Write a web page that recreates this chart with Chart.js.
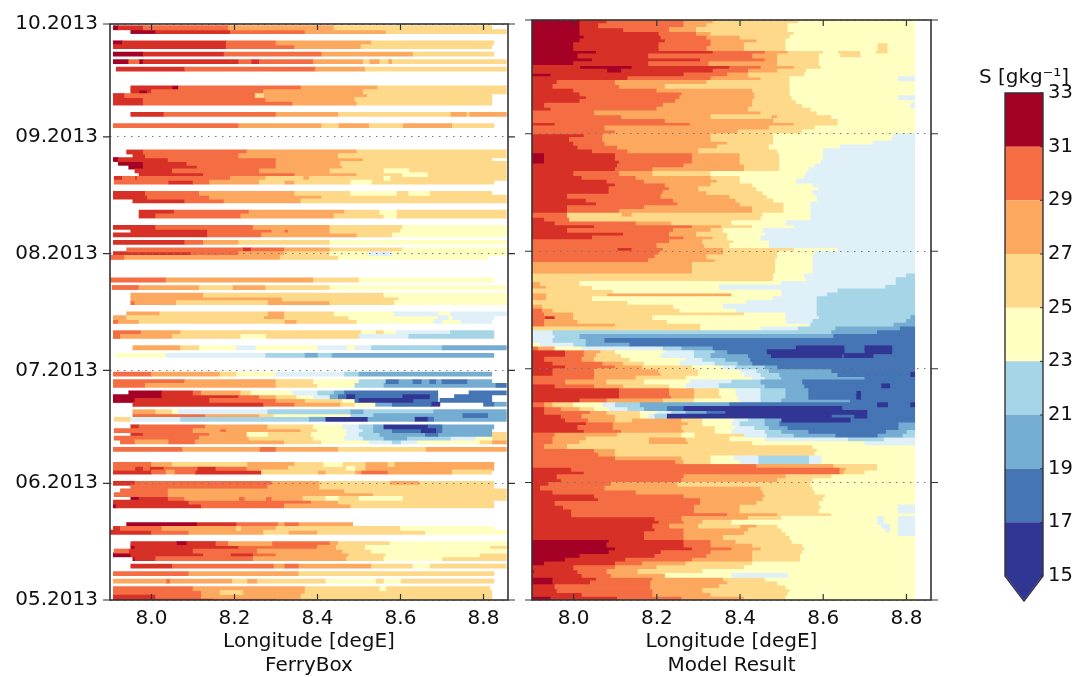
<!DOCTYPE html>
<html><head><meta charset="utf-8">
<script src="https://cdn.jsdelivr.net/npm/chart.js@4"></script>
<style>
html,body{margin:0;padding:0;background:#fff;width:1091px;height:677px;overflow:hidden}
canvas{position:absolute;top:0}
</style></head><body>
<canvas id="ferry" width="520" height="677" style="left:0"></canvas>
<canvas id="model" width="420" height="677" style="left:520px"></canvas>
<canvas id="cbar" width="131" height="677" style="left:960px"></canvas>
<script>
// salinity classes, low to high
const N=0,M=1,m=2,B=3,b=4,Y=5,y=6,O=7,o=8,r=9,R=10;
const classColors=['#313695','#4575b4','#74add1','#a6d5e8','#e0f0f8','#feffc0','#fed98a','#fca85f','#f46d43','#d73027','#a50026'];
const cbarEdges=[15,17,19,21,23,25,27,29,31,33];
const cbarColors=['#313695','#4575b4','#74add1','#a6d5e8','#feffc0','#fed98a','#fca85f','#f46d43','#a50026'];
const tickDays=[0,31,61,92,123,153];
const tickLabels=['05.2013','06.2013','07.2013','08.2013','09.2013','10.2013'];
const lonTicks=[8.0,8.2,8.4,8.6,8.8];
const lonMin=7.9, lonMax=8.859, modelEnd=8.82, modelStart=7.9;

// FerryBox tracks: [day since 1 May, start lon, class, end lon, class, end lon, ...]
const ferryRows=[
[152,7.908,R,7.92,r,7.98,o,8.185,O,8.44,y,8.82],
[151,7.95,R,8.01,r,8.19,o,8.37,O,8.565,y,8.855],
[148,7.908,R,7.93,r,8.18,o,8.30,O,8.53,y,8.825],
[147,7.908,r,8.18,o,8.345,O,8.505,y,8.82],
[145,7.908,R,7.98,r,8.175,o,8.41,O,8.63,y,8.825],
[143,7.908,R,7.945,o,7.97,R,7.98,r,8.21,o,8.24,r,8.26,o,8.39,O,8.51,y,8.525,O,8.55,y,8.57,O,8.58,y,8.855],
[141,7.915,r,8.08,o,8.395,O,8.515,y,8.855],
[136,7.95,r,8.05,R,8.065,o,8.36,O,8.545,y,8.855],
[135,7.95,r,7.97,R,7.99,r,8.0,o,8.27,O,8.51,y,8.855],
[134,7.908,r,7.935,o,8.25,y,8.27,O,8.52,y,8.82],
[133,7.908,r,7.98,o,8.275,O,8.49,y,8.82],
[132,7.908,r,7.98,o,8.34,O,8.495,y,8.82],
[129,7.95,r,8.03,o,8.30,O,8.45,y,8.72,O,8.76,y,8.765,O,8.855],
[126,7.908,o,8.21,O,8.41,y,8.45,O,8.525,y,8.605,O,8.725,y,8.825],
[119,7.94,r,7.98,o,8.23,O,8.495,y,8.855],
[118,7.955,r,7.985,o,8.21,O,8.45,y,8.855],
[117,7.908,R,7.92,r,8.04,o,8.30,O,8.51,y,8.82],
[116,7.92,R,7.98,r,8.085,o,8.30,O,8.455,y,8.855],
[115,7.945,R,7.98,r,8.11,o,8.30,O,8.46,y,8.855],
[114,7.96,r,8.05,o,8.26,O,8.43,y,8.56,Y,8.62,y,8.855],
[113,7.97,r,8.125,o,8.345,O,8.495,y,8.605,Y,8.665,y,8.855],
[112,7.91,r,7.93,o,7.96,r,7.965,o,8.19,O,8.275,y,8.365,O,8.38,y,8.56,Y,8.575,y,8.855],
[111,7.91,o,8.04,r,8.10,o,8.14,O,8.26,y,8.32,O,8.345,y,8.48,Y,8.53,y,8.825],
[108,7.908,r,7.985,o,8.115,O,8.345,y,8.48,Y,8.59,y,8.62,Y,8.67,y,8.82],
[107,7.908,r,7.99,o,8.14,O,8.41,y,8.855],
[106,7.955,r,8.08,o,8.175,O,8.36,y,8.855],
[103,7.97,r,8.055,o,8.235,O,8.465,y,8.55,Y,8.59,y,8.855],
[102,7.97,r,8.01,o,8.215,O,8.44,y,8.56,Y,8.59,y,8.855],
[99,7.908,r,8.01,o,8.245,O,8.43,y,8.605,Y,8.68,Y,8.855],
[98,7.95,r,8.135,o,8.29,O,8.32,o,8.33,O,8.43,y,8.60,Y,8.855],
[97,7.908,r,8.135,o,8.265,O,8.495,y,8.58,Y,8.855],
[95,7.908,r,8.08,o,8.125,O,8.21,y,8.43,Y,8.855],
[93,7.94,o,8.22,r,8.24,o,8.32,O,8.43,y,8.605,Y,8.855],
[92,7.908,r,8.095,o,8.21,O,8.32,y,8.43,Y,8.525,b,8.58,Y,8.855],
[91,7.90,o,7.935,O,8.31,y,8.45,Y,8.81],
[85,7.90,o,8.035,O,8.39,y,8.50,Y,8.825],
[83,7.905,o,7.97,O,8.115,y,8.195,O,8.275,y,8.43,Y,8.855],
[81,7.95,O,8.125,y,8.56,Y,8.855],
[80,7.95,O,8.315,y,8.595,Y,8.855],
[79,7.95,o,7.96,O,8.06,y,8.28,O,8.43,y,8.585,Y,8.855],
[76,7.94,O,8.02,y,8.28,O,8.32,y,8.44,Y,8.585,b,8.69,Y,8.72,b,8.855],
[75,7.908,O,7.94,y,8.27,O,8.32,y,8.475,Y,8.69,b,8.715,Y,8.725,b,8.825],
[74,7.908,o,7.92,O,7.97,y,8.32,O,8.35,y,8.495,Y,8.68,b,8.70,Y,8.745,b,8.82],
[71,7.908,o,7.975,O,8.07,y,8.505,Y,8.54,y,8.56,Y,8.59,b,8.72,B,8.825],
[70,7.908,o,7.925,O,8.05,y,8.215,Y,8.275,y,8.50,b,8.62,B,8.825],
[67,7.955,O,8.07,y,8.115,Y,8.205,b,8.25,Y,8.40,b,8.47,Y,8.49,b,8.53,B,8.70,m,8.855],
[65,7.915,Y,8.035,b,8.275,B,8.37,m,8.40,B,8.435,m,8.825],
[60,7.908,o,8.0,O,8.165,y,8.205,Y,8.30,b,8.465,B,8.50,m,8.82],
[58,7.908,o,8.08,O,8.30,y,8.39,Y,8.50,B,8.565,M,8.595,m,8.63,M,8.65,m,8.67,M,8.685,m,8.70,M,8.76,m,8.82],
[57,7.908,o,7.985,O,8.30,y,8.40,Y,8.49,B,8.56,m,8.83,M,8.855],
[55,7.945,R,8.025,r,8.10,o,8.12,O,8.215,y,8.24,Y,8.34,b,8.40,B,8.44,m,8.465,M,8.69],
[55,8.765,M,8.855],
[54,7.908,R,8.025,r,8.21,o,8.26,O,8.30,y,8.35,Y,8.39,b,8.43,m,8.45,M,8.47,N,8.49,M,8.605,N,8.67,M,8.69],
[54,8.73,M,8.82],
[53,7.908,R,7.96,r,8.14,o,8.30,O,8.37,y,8.46,Y,8.49,M,8.50,N,8.63,M,8.69],
[53,8.695,M,8.82],
[52,7.955,r,8.27,o,8.345,O,8.455,y,8.49,Y,8.54,m,8.58,M,8.675,N,8.695],
[52,8.80,M,8.825,m,8.855],
[50,7.955,O,8.01,y,8.05,Y,8.065,b,8.28,B,8.48,m,8.51,B,8.68,m,8.855],
[49,7.955,o,8.13,O,8.26,y,8.295,Y,8.48,B,8.535,m,8.75,M,8.81,m,8.855],
[48,7.91,y,7.95,b,8.07,B,8.38,m,8.42,N,8.52,m,8.635,N,8.665,M,8.68,m,8.855],
[46,7.95,r,7.97,o,8.13,O,8.28,y,8.39,Y,8.46,b,8.50,B,8.535,m,8.56,N,8.665,M,8.70,m,8.825],
[45,7.91,o,8.10,O,8.165,o,8.18,O,8.36,y,8.40,Y,8.47,b,8.51,B,8.535,m,8.58,M,8.65,N,8.685,M,8.70,m,8.82],
[44,7.95,r,7.98,o,8.14,O,8.23,Y,8.28,y,8.385,Y,8.47,b,8.50,B,8.55,m,8.66,M,8.69,m,8.82,y,8.855],
[43,7.91,o,8.115,O,8.235,y,8.39,Y,8.465,b,8.51,B,8.56,m,8.615,B,8.72,b,8.78,Y,8.82,y,8.855],
[42,7.925,o,7.96,O,8.04,o,8.105,O,8.32,y,8.41,Y,8.525,b,8.58,B,8.6,b,8.64,Y,8.79,y,8.82,O,8.855],
[40,7.908,o,8.075,O,8.26,o,8.30,O,8.45,y,8.66,O,8.855],
[36,7.908,o,8.0,O,8.05,y,8.23,O,8.345,y,8.415,Y,8.46,y,8.515,O,8.57,y,8.585,O,8.825],
[35,7.908,o,7.96,r,7.98,o,7.995,r,8.03,o,8.11,r,8.155,o,8.23,O,8.33,y,8.47,Y,8.49,y,8.515,O,8.825],
[34,7.908,r,8.0,o,8.035,O,8.055,o,8.105,r,8.265,y,8.40,O,8.42,y,8.49,O,8.505,o,8.57,O,8.725,y,8.82],
[31,7.908,r,7.96,o,8.29,O,8.405,y,8.575,O,8.645,y,8.825],
[30,7.95,o,8.28,O,8.405,y,8.825],
[29,7.925,o,8.04,O,8.465,y,8.855],
[28,7.91,o,8.04,O,8.535,y,8.855],
[27,7.95,R,7.97,r,8.04,o,8.08,O,8.21,o,8.225,O,8.275,o,8.29,O,8.365,y,8.42,Y,8.45,y,8.50,Y,8.605,y,8.855],
[26,7.908,r,8.09,o,8.385,O,8.45,y,8.825],
[25,7.908,R,7.915,r,8.12,o,8.32,O,8.48,y,8.825],
[20,7.94,R,8.11,r,8.205,o,8.305,O,8.32,o,8.355,O,8.485],
[19,7.908,r,7.925,o,8.025,O,8.205,y,8.215,O,8.30,y,8.60,Y,8.825],
[18,7.90,r,8.0,o,8.09,O,8.27,y,8.33,O,8.40,y,8.66,Y,8.855],
[15,7.95,r,8.06,R,8.085,r,8.155,o,8.185,O,8.29,o,8.43,O,8.45,y,8.575,Y,8.855],
[14,7.95,R,7.96,r,8.21,o,8.40,O,8.445,y,8.515,Y,8.815,y,8.855],
[13,7.91,o,7.945,r,8.10,o,8.255,O,8.46,y,8.53,Y,8.855],
[12,7.908,R,7.95,r,8.125,o,8.19,r,8.245,o,8.30,O,8.475,y,8.565,Y,8.79,y,8.855],
[11,7.955,R,7.96,r,8.01,o,8.245,O,8.47,y,8.56,Y,8.70,y,8.855],
[9,7.95,r,8.05,o,8.295,O,8.32,o,8.355,O,8.53,y,8.63,Y,8.67,y,8.855],
[7,7.908,o,8.09,O,8.355,y,8.825],
[5,7.908,O,8.035,o,8.045,O,8.195,y,8.23,O,8.255,y,8.42,Y,8.54,y,8.56,Y,8.60,y,8.825],
[3,7.908,o,8.10,O,8.37,y,8.55,Y,8.565,y,8.815],
[2,7.908,o,8.12,O,8.165,y,8.22,O,8.37,y,8.82],
[1,7.908,r,8.01,o,8.12,O,8.36,y,8.82],
[0,7.908,r,8.15,o,8.30,O,8.40,y,8.82]
];

// Model result, one row per day from 30 Sep down to 1 May: class, end lon, ... last class runs to modelEnd
const modelRows=[
[R,8.015,r,8.08,o,8.265,O,8.335,y,8.54,Y],
[R,8.015,r,8.06,o,8.265,O,8.32,y,8.515,Y],
[R,8.015,r,8.12,o,8.23,O,8.295,y,8.515,Y],
[R,8.015,r,8.205,o,8.295,O,8.33,y,8.53,Y],
[R,8.025,r,8.21,o,8.32,O,8.40,y,8.52,Y],
[R,8.015,r,8.22,o,8.33,O,8.44,y,8.51,Y],
[R,8.0,r,8.205,o,8.33,O,8.41,y,8.51,Y,8.73,y,8.755,Y],
[R,8.0,r,8.205,o,8.32,O,8.41,y,8.51,Y,8.73,y,8.755,Y],
[R,8.055,r,8.335,o,8.46,O,8.515,y,8.60,Y,8.635,y,8.69,Y,8.725,y,8.755,Y],
[R,8.01,r,8.18,o,8.43,O,8.49,y,8.59,Y,8.64,y,8.69,Y],
[R,8.045,r,8.305,o,8.46,O,8.49,y,8.59,Y],
[R,8.0,r,8.18,o,8.325,O,8.49,y,8.59,Y],
[r,8.015,R,8.14,r,8.375,o,8.45,O,8.53,y,8.595,Y],
[r,8.08,R,8.115,r,8.335,o,8.42,O,8.49,y,8.56,Y],
[R,7.945,r,8.265,o,8.37,O,8.42,y,8.555,Y],
[r,8.13,o,8.33,O,8.45,y,8.52,Y,8.78,b],
[r,7.96,o,8.10,O,8.32,y,8.52,Y],
[r,7.95,o,8.11,O,8.22,y,8.52,Y],
[r,8.0,o,8.20,O,8.43,y,8.52,Y],
[r,8.015,o,8.26,O,8.435,y,8.52,Y],
[r,8.03,o,8.255,O,8.435,y,8.525,Y,8.78,b],
[r,8.015,o,8.245,O,8.43,y,8.535,Y],
[r,7.93,o,8.215,O,8.43,y,8.55,Y,8.81,b],
[r,7.945,o,8.2,O,8.42,y,8.57,Y],
[o,8.05,O,8.45,y,8.585,Y],
[o,8.115,O,8.33,y,8.475,O,8.49,y,8.62,Y],
[o,8.22,O,8.48,y,8.635,Y],
[r,7.955,o,8.28,O,8.53,y,8.635,Y],
[o,8.075,O,8.47,y,8.58,Y],
[o,8.10,O,8.395,y,8.55,Y],
[r,8.025,o,8.07,O,8.33,y,8.48,Y,8.77,b],
[r,7.99,o,8.07,O,8.33,y,8.48,Y,8.765,b],
[r,8.0,o,8.075,O,8.37,y,8.48,Y,8.72,b],
[r,8.01,o,8.105,O,8.345,y,8.47,Y,8.64,b],
[r,8.045,o,8.13,O,8.3,y,8.49,Y,8.60,b],
[R,7.93,r,8.10,o,8.285,O,8.40,y,8.495,Y,8.60,b],
[R,7.93,r,8.10,o,8.285,O,8.40,y,8.495,Y,8.60,b],
[R,7.93,r,8.11,o,8.285,O,8.40,y,8.495,Y,8.595,b],
[r,8.105,o,8.265,O,8.41,y,8.495,Y,8.58,b],
[r,8.10,o,8.19,O,8.41,y,8.495,Y,8.565,b],
[r,8.0,o,8.11,O,8.19,y,8.33,Y,8.56,b],
[r,8.02,o,8.15,O,8.33,y,8.40,Y,8.555,b],
[r,8.08,o,8.17,O,8.345,y,8.40,Y,8.535,b],
[r,8.10,o,8.22,O,8.33,y,8.43,Y,8.575,b],
[r,8.085,o,8.23,O,8.30,y,8.44,Y,8.59,b],
[r,8.085,o,8.215,O,8.32,y,8.455,Y,8.575,b],
[r,7.985,o,8.21,O,8.375,y,8.465,Y,8.585,b],
[r,8.03,o,8.24,O,8.39,y,8.48,Y,8.585,b],
[r,8.055,o,8.25,O,8.40,y,8.505,Y,8.57,b],
[r,7.985,o,8.17,O,8.43,y,8.505,Y,8.57,b],
[r,7.985,o,8.11,O,8.43,y,8.505,Y,8.57,b],
[o,7.985,y,8.115,O,8.14,y,8.455,Y,8.57,b],
[r,7.93,o,7.99,y,8.45,Y,8.57,b],
[r,7.955,o,8.15,O,8.235,y,8.38,Y,8.51,b],
[r,8.05,o,8.285,O,8.355,y,8.43,Y,8.53,b],
[r,7.985,o,8.24,O,8.33,y,8.36,Y,8.455,b],
[r,8.12,o,8.23,O,8.295,y,8.37,Y,8.46,b],
[r,8.045,o,8.265,O,8.335,y,8.37,Y,8.45,b],
[o,8.23,O,8.31,y,8.385,Y,8.47,b],
[o,8.20,O,8.315,y,8.375,Y,8.47,b],
[o,8.105,r,8.14,o,8.215,O,8.36,y,8.53,Y,8.635,b],
[o,8.205,O,8.36,y,8.49,Y,8.58,b],
[o,8.195,O,8.32,y,8.49,Y,8.575,b],
[o,8.18,O,8.34,y,8.485,Y,8.575,b],
[O,8.285,y,8.485,Y,8.575,b],
[O,8.285,y,8.485,Y,8.575,b],
[O,8.285,y,8.485,Y,8.575,b],
[y,8.48,Y,8.555,b,8.80,B],
[y,8.48,Y,8.56,b,8.775,B],
[O,7.92,y,8.015,Y,8.50,b,8.775,B],
[O,7.935,y,8.045,Y,8.35,b,8.75,B],
[y,8.095,Y,8.50,b,8.635,B],
[O,7.935,y,8.08,O,8.38,Y,8.50,b,8.61,B],
[O,7.935,y,8.045,Y,8.48,b,8.585,B],
[y,8.13,Y,8.415,b,8.585,B],
[O,7.925,y,8.24,Y,8.36,b,8.585,B],
[o,7.925,O,7.95,y,8.255,Y,8.39,b,8.585,B],
[o,7.93,O,8.0,y,8.41,Y,8.51,b,8.585,B],
[o,7.93,r,7.955,O,8.0,y,8.19,Y,8.51,b,8.59,B,8.81,m],
[o,7.93,O,8.01,y,8.225,Y,8.51,b,8.575,B,8.80,m],
[o,7.93,O,8.10,y,8.305,Y,8.565,b,8.57,B,8.77,m],
[y,8.305,Y,8.45,b,8.54,B,8.63,m,8.785,M],
[b,7.95,B,8.62,m,8.73,M],
[b,7.955,B,8.015,m,8.625,M],
[b,7.95,B,8.03,m,8.075,M],
[Y,7.92,b,8.0,B,8.03,m,8.135,M],
[o,7.915,O,7.955,Y,8.02,b,8.215,B,8.26,m,8.335,M,8.535,N,8.65,M,8.70,N,8.765,M],
[r,7.98,o,8.025,O,8.065,y,8.10,Y,8.22,b,8.29,B,8.34,m,8.37,M,8.465,N,8.65,M,8.70,N,8.765,M],
[r,7.98,o,8.025,O,8.055,y,8.115,Y,8.21,b,8.29,B,8.33,m,8.42,M,8.475,N,8.645,M,8.65,N,8.72,M],
[r,7.93,o,8.02,O,8.05,y,8.135,Y,8.27,b,8.31,B,8.365,m,8.425,M],
[r,7.95,o,8.07,O,8.12,y,8.17,Y,8.255,b,8.34,B,8.395,m,8.43,M],
[r,7.98,o,8.10,O,8.165,y,8.285,Y,8.36,b,8.39,B,8.46,m,8.49,M],
[r,7.95,o,8.05,O,8.205,y,8.30,Y,8.40,b,8.44,B,8.47,m,8.62,M],
[r,7.95,o,8.05,O,8.21,y,8.30,Y,8.41,b,8.45,B,8.495,m,8.635,M,8.81,N],
[o,8.05,O,8.15,y,8.27,Y,8.43,b,8.46,B,8.50,m,8.70,M],
[o,7.98,O,8.08,y,8.17,Y,8.28,b,8.38,B,8.45,m,8.55,M],
[r,7.955,o,8.05,O,8.12,y,8.23,Y,8.27,b,8.35,B,8.46,m,8.555,M,8.74,N,8.76,M],
[r,8.11,o,8.23,O,8.29,y,8.35,Y,8.39,b,8.45,B,8.51,m,8.565,M],
[r,8.11,o,8.23,O,8.29,y,8.35,Y,8.39,b,8.45,B,8.51,m,8.565,M,8.68,N,8.69,M],
[r,8.11,o,8.235,O,8.29,y,8.355,Y,8.395,b,8.45,B,8.51,m,8.565,M,8.68,N,8.69,M],
[r,8.015,o,8.08,O,8.215,y,8.29,Y,8.40,b,8.45,B,8.50,m,8.665,M],
[o,7.93,O,7.95,y,8.0,Y,8.07,b,8.10,B,8.16,m,8.375,M,8.73,N,8.755,M,8.81,N],
[r,7.93,o,7.97,O,8.015,y,8.05,Y,8.085,b,8.13,B,8.17,m,8.225,M,8.265,N,8.645,M],
[r,7.93,o,8.04,O,8.08,y,8.16,Y,8.2,b,8.235,B,8.27,m,8.32,M,8.365,N,8.705,M],
[r,7.97,o,8.02,O,8.10,y,8.16,Y,8.18,b,8.195,B,8.225,N,8.62,M,8.675,N,8.705,M],
[r,7.98,o,8.035,O,8.10,y,8.14,O,8.26,y,8.31,Y,8.385,b,8.42,B,8.46,m,8.50,N,8.665,M],
[r,8.03,o,8.095,O,8.275,y,8.31,Y,8.38,b,8.40,B,8.46,m,8.495,M,8.78,m],
[r,8.01,o,8.095,O,8.26,y,8.34,Y,8.39,b,8.435,B,8.47,m,8.515,M,8.78,m],
[r,8.025,o,8.115,O,8.265,y,8.34,Y,8.38,b,8.46,B,8.50,m,8.565,M,8.75,m,8.8,B],
[o,7.955,O,8.105,y,8.26,Y,8.29,y,8.41,b,8.465,B,8.53,m,8.63,M,8.73,m,8.79,B],
[o,7.95,O,8.03,y,8.18,O,8.27,y,8.375,Y,8.46,b,8.66,B,8.745,b],
[o,7.95,O,8.015,y,8.18,O,8.275,y,8.43,Y,8.70,b],
[o,7.93,O,7.985,y,8.575,Y],
[o,8.05,O,8.10,y,8.585,Y],
[o,8.06,O,8.10,y,8.58,Y],
[o,8.10,O,8.26,y,8.33,Y,8.385,b,8.445,B,8.565,b,8.595,Y],
[o,8.245,O,8.265,y,8.33,Y,8.40,b,8.445,B,8.565,b,8.595,Y],
[o,8.44,O,8.625,y,8.73,Y],
[r,7.995,o,8.64,O,8.655,y,8.73,Y],
[r,8.025,o,8.64,O,8.65,y,8.70,Y],
[r,7.96,o,8.265,O,8.51,y,8.62,Y],
[r,7.97,o,8.26,O,8.49,y,8.575,Y],
[r,7.94,o,8.09,O,8.25,y,8.57,Y],
[r,7.92,o,8.075,O,8.45,y,8.575,Y],
[r,7.95,o,8.15,O,8.455,y,8.58,Y],
[r,8.05,o,8.265,O,8.46,y,8.605,Y],
[r,8.06,o,8.305,O,8.455,y,8.60,Y],
[r,7.955,o,8.305,O,8.44,y,8.59,Y],
[r,7.975,o,8.29,O,8.40,y,8.595,Y,8.78,b],
[r,7.995,o,8.29,O,8.40,y,8.59,Y,8.78,b],
[r,7.995,o,8.37,O,8.49,y,8.62,Y],
[r,8.195,o,8.26,O,8.42,y,8.5,Y,8.73,b,8.745,Y,8.78,b],
[r,8.205,o,8.265,O,8.31,y,8.38,Y,8.73,b,8.745,Y,8.78,b],
[r,8.19,o,8.23,O,8.30,y,8.40,O,8.44,y,8.49,Y,8.74,b,8.76,Y,8.78,b],
[r,8.195,o,8.265,O,8.42,y,8.50,Y,8.75,b,8.76,Y,8.78,b],
[r,8.17,o,8.265,O,8.41,y,8.51,Y,8.78,b],
[r,8.17,o,8.265,O,8.36,y,8.52,Y],
[R,8.085,r,8.265,o,8.33,O,8.39,y,8.525,Y],
[R,8.08,r,8.265,o,8.33,O,8.43,y,8.55,Y],
[R,8.10,r,8.285,o,8.38,O,8.45,y,8.555,Y],
[R,8.085,r,8.21,o,8.33,O,8.43,y,8.55,Y],
[R,8.015,r,8.195,o,8.32,O,8.43,y,8.545,Y],
[R,7.98,r,8.125,o,8.285,O,8.43,y,8.545,Y],
[R,7.93,r,8.10,o,8.165,O,8.27,y,8.43,Y],
[r,8.0,o,8.1,O,8.2,y,8.41,Y],
[R,7.905,r,8.01,o,8.08,O,8.155,y,8.31,Y],
[r,8.02,o,8.09,O,8.22,Y,8.38,b,8.515,Y],
[R,7.95,r,8.055,o,8.19,O,8.36,y,8.46,Y],
[R,7.95,r,8.04,o,8.185,O,8.37,y,8.49,Y],
[r,7.955,o,8.185,O,8.35,y,8.51,Y],
[r,7.96,o,8.19,O,8.31,y,8.52,Y],
[r,8.02,o,8.19,O,8.33,y,8.515,Y],
[R,7.945,r,8.105,o,8.26,O,8.41,y,8.51,Y]
];

const textColor='#111', frameColor='#333';
const fontFam='"DejaVu Sans", sans-serif';

function classDatasets(rowsAsSegments, thickness){
  const sets=classColors.map((c)=>({data:[],backgroundColor:c,borderWidth:0,grouped:false,barThickness:thickness,inflateAmount:0.3}));
  rowsAsSegments.forEach(s=>sets[s.c].data.push({y:s.day,x:[s.a,s.b]}));
  return sets;
}
function ferrySegments(){
  const out=[];
  ferryRows.forEach(row=>{
    let a=row[1];
    for(let i=2;i<row.length;i+=2){out.push({day:row[0],c:row[i],a:a,b:row[i+1]});a=row[i+1];}
  });
  return out;
}
function modelSegments(){
  const out=[];
  modelRows.forEach((row,k)=>{
    const day=modelRows.length-1-k+0.5;
    let a=modelStart;
    for(let i=0;i<row.length;i+=2){
      const end=i+1<row.length?row[i+1]:modelEnd;
      out.push({day:day,c:row[i],a:a,b:end});a=end;
    }
  });
  return out;
}
const framePlugin={
  id:'frame',
  afterDraw(chart){
    const {ctx,chartArea:ca,scales}=chart;
    ctx.save();
    ctx.strokeStyle=frameColor;ctx.lineWidth=1.6;
    ctx.strokeRect(ca.left,ca.top,ca.right-ca.left,ca.bottom-ca.top);
    ctx.lineWidth=1.2;
    ctx.beginPath();
    lonTicks.forEach(v=>{
      const x=scales.x.getPixelForValue(v);
      ctx.moveTo(x,ca.top);ctx.lineTo(x,ca.top+6);
      ctx.moveTo(x,ca.bottom);ctx.lineTo(x,ca.bottom-6);
    });
    tickDays.forEach(v=>{
      const p=scales.y.getPixelForValue(v);
      ctx.moveTo(ca.left-7,p);ctx.lineTo(ca.left,p);
      ctx.moveTo(ca.right,p);ctx.lineTo(ca.right+7,p);
    });
    ctx.stroke();
    ctx.restore();
  }
};
function panel(id,segments,thickness,subtitle,showY,pad,yWidth){
  return new Chart(document.getElementById(id),{
    type:'bar',
    data:{datasets:classDatasets(segments,thickness)},
    plugins:[framePlugin],
    options:{
      indexAxis:'y',responsive:false,animation:false,
      layout:{padding:pad},
      plugins:{legend:{display:false},tooltip:{enabled:false}},
      scales:{
        x:{type:'linear',min:lonMin,max:lonMax,
          afterBuildTicks(s){s.ticks=lonTicks.map(v=>({value:v}));},
          afterFit(s){s.height=77;},
          grid:{display:false,drawTicks:false},border:{display:false},
          ticks:{color:textColor,font:{family:fontFam,size:20},padding:7,maxRotation:0,autoSkip:false,callback:v=>v.toFixed(1)},
          title:{display:true,text:['Longitude [degE]',subtitle],color:textColor,font:{family:fontFam,size:20,lineHeight:1.16},padding:{top:5,bottom:0}}
        },
        y:{type:'linear',min:0,max:153,offset:false,
          afterBuildTicks(s){s.ticks=tickDays.map(v=>({value:v}));},
          afterFit(s){s.width=yWidth;},
          grid:{display:true,offset:false,color:'#777',lineWidth:1,z:1,drawTicks:false},
          border:{display:false,dash:[1.5,5.5]},
          ticks:{display:showY,color:textColor,font:{family:fontFam,size:20},padding:12,autoSkip:false,
            callback:v=>tickLabels[tickDays.indexOf(v)]}
        }
      }
    }
  });
}
panel('ferry',ferrySegments(),4.2,'FerryBox',true,{top:20,right:12,left:0,bottom:0},110);
panel('model',modelSegments(),4.3,'Model Result',false,{top:20,right:9,left:12,bottom:0},0);

const cbarPlugin={
  id:'cbarFrame',
  afterDraw(chart){
    const {ctx,chartArea:ca,scales}=chart;
    const y15=scales.y.getPixelForValue(cbarEdges[0]), y33=scales.y.getPixelForValue(cbarEdges[cbarEdges.length-1]);
    ctx.save();
    ctx.fillStyle=cbarColors[0];ctx.strokeStyle=frameColor;ctx.lineWidth=1.4;
    ctx.beginPath();
    ctx.moveTo(ca.left,y33);ctx.lineTo(ca.right,y33);ctx.lineTo(ca.right,y15);
    ctx.lineTo((ca.left+ca.right)/2,ca.bottom);ctx.lineTo(ca.left,y15);ctx.closePath();
    ctx.stroke();
    ctx.beginPath();
    ctx.moveTo(ca.left+0.7,y15);ctx.lineTo(ca.right-0.7,y15);ctx.lineTo((ca.left+ca.right)/2,ca.bottom-1);ctx.closePath();ctx.fill();
    ctx.lineWidth=1;ctx.beginPath();
    cbarEdges.forEach(v=>{const p=scales.y.getPixelForValue(v);ctx.moveTo(ca.right-3,p);ctx.lineTo(ca.right,p);});
    ctx.stroke();
    ctx.fillStyle=textColor;ctx.font='20px '+fontFam;ctx.textAlign='center';ctx.textBaseline='middle';
    ctx.fillText('S [gkg\u207B\u00B9]',64,78);
    ctx.restore();
  }
};
new Chart(document.getElementById('cbar'),{
  type:'bar',
  data:{labels:['S'],datasets:cbarColors.map((c,i)=>({data:[[cbarEdges[i],cbarEdges[i+1]]],backgroundColor:c,borderWidth:0,grouped:false,barPercentage:1,categoryPercentage:1,inflateAmount:0}))},
  plugins:[cbarPlugin],
  options:{
    responsive:false,animation:false,
    layout:{padding:{left:45,top:93,bottom:76,right:0}},
    plugins:{legend:{display:false},tooltip:{enabled:false}},
    scales:{
      x:{display:false},
      y:{position:'right',min:14.07,max:33,
        afterBuildTicks(s){s.ticks=cbarEdges.map(v=>({value:v}));},
        afterFit(s){s.width=48;},
        grid:{display:false,drawTicks:false},border:{display:false},
        ticks:{color:textColor,font:{family:fontFam,size:19.5},padding:5,autoSkip:false,callback:v=>String(v)}
      }
    }
  }
});
</script>
</body></html>
